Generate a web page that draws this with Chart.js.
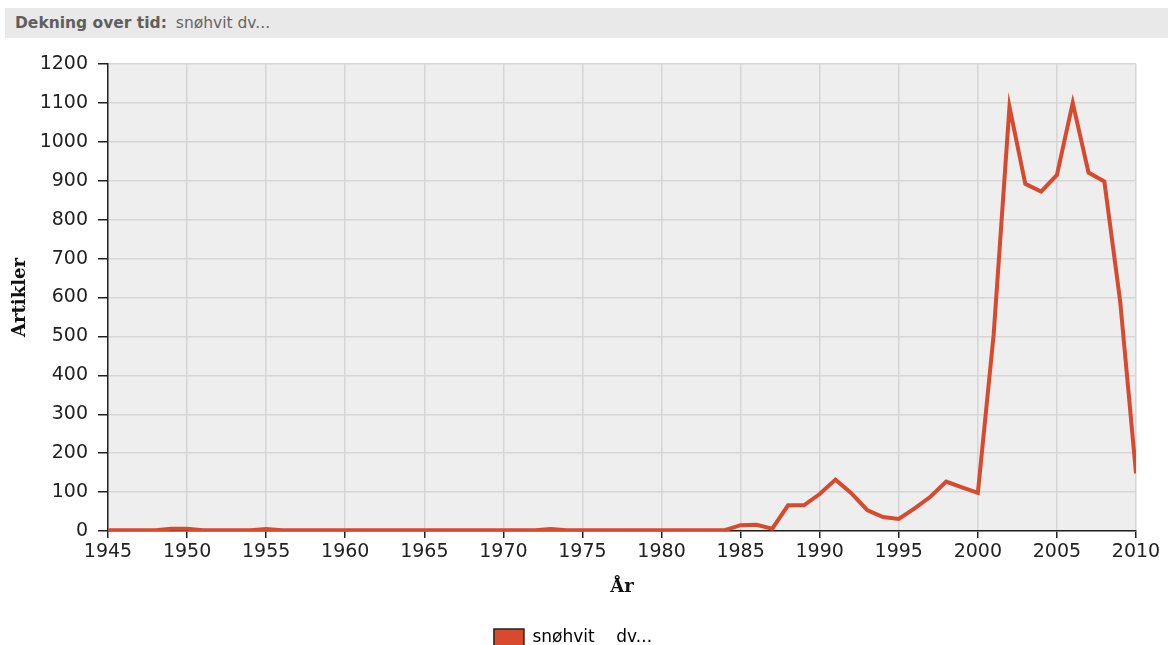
<!DOCTYPE html>
<html>
<head>
<meta charset="utf-8">
<script src="https://cdn.jsdelivr.net/npm/chart.js@4/dist/chart.umd.min.js"></script>
<style>
    html, body { margin: 0; padding: 0; background: #fff; overflow: hidden; }
    body { width: 1168px; height: 645px; position: relative; }
    .header {
        position: absolute; left: 5px; top: 8px; width: 1163px; height: 30px;
        background: #e9e9e9; font-family: "DejaVu Sans", sans-serif;
        font-size: 15.5px; line-height: 31px; color: #666;
    }
    .header b { margin-left: 10px; margin-right: 4px; color: #5f5f5f; }
    .chart-box { position: absolute; left: 0; top: 40px; width: 1168px; height: 620px; }
</style>
</head>
<body>
<div class="header"><b>Dekning over tid:</b> snøhvit dv...</div>
<div class="chart-box"><canvas id="coverageChart"></canvas></div>
<script>
// Years and article counts
var years = [1945, 1946, 1947, 1948, 1949, 1950, 1951, 1952, 1953, 1954,
             1955, 1956, 1957, 1958, 1959, 1960, 1961, 1962, 1963, 1964,
             1965, 1966, 1967, 1968, 1969, 1970, 1971, 1972, 1973, 1974,
             1975, 1976, 1977, 1978, 1979, 1980, 1981, 1982, 1983, 1984,
             1985, 1986, 1987, 1988, 1989, 1990, 1991, 1992, 1993, 1994,
             1995, 1996, 1997, 1998, 1999, 2000, 2001, 2002, 2003, 2004,
             2005, 2006, 2007, 2008, 2009, 2010];
var articles = [2, 2, 2, 2, 6, 6, 2, 2, 2, 2,
                5, 2, 2, 2, 2, 2, 2, 2, 2, 2,
                2, 2, 2, 2, 2, 2, 2, 2, 5, 2,
                2, 2, 2, 2, 2, 2, 2, 2, 2, 2,
                15, 16, 6, 66, 66, 95, 132, 97, 54, 36,
                31, 58, 88, 127, 112, 98, 505, 1090, 892, 872,
                915, 1100, 921, 898, 590, 148];
var seriesName = 'snøhvit    dv...';
var yTitle = 'Artikler';
var xTitle = 'År';

var lineColor = '#d84a2e';
var tickFont = { family: 'DejaVu Sans', size: 19 };
var titleFont = { family: 'DejaVu Serif', size: 18, weight: 'bold' };

// grey plot background
var plotBg = {
    id: 'plotBg',
    beforeDraw: function(chart) {
        var a = chart.chartArea, ctx = chart.ctx;
        ctx.save();
        ctx.fillStyle = '#eeeeee';
        ctx.fillRect(a.left, a.top, a.right - a.left, a.bottom - a.top);
        ctx.restore();
    }
};

var ctx = document.getElementById('coverageChart').getContext('2d');
var coverageChart = new Chart(ctx, {
    type: 'line',
    data: {
        datasets: [{
            label: seriesName,
            data: years.map(function(y, i) { return { x: y, y: articles[i] }; }),
            borderColor: lineColor,
            backgroundColor: lineColor,
            borderWidth: 4,
            pointRadius: 0,
            tension: 0,
            fill: false
        }]
    },
    options: {
        responsive: true,
        maintainAspectRatio: false,
        animation: false,
        layout: { padding: { top: 24, right: 32, left: 10, bottom: 4 } },
        scales: {
            x: {
                type: 'linear',
                min: 1945,
                max: 2010,
                afterFit: function(scale) { scale.height = 78; },
                ticks: {
                    stepSize: 5,
                    maxRotation: 0,
                    color: '#222',
                    font: tickFont,
                    padding: 3,
                    callback: function(v) { return String(v); }
                },
                grid: { color: '#d6d6d6', lineWidth: 1.5, tickColor: '#222', tickLength: 7 },
                border: { color: '#222', width: 1.5 },
                title: { display: true, text: xTitle, color: '#111', font: titleFont, padding: { top: 4, bottom: 11 } }
            },
            y: {
                min: 0,
                max: 1200,
                afterFit: function(scale) { scale.width = 98; },
                ticks: {
                    stepSize: 100,
                    color: '#222',
                    font: tickFont,
                    padding: 10,
                    callback: function(v) { return String(v); }
                },
                grid: { color: '#d6d6d6', lineWidth: 1.5, tickColor: '#222', tickLength: 10 },
                border: { color: '#222', width: 1.5 },
                title: { display: true, text: yTitle, color: '#111', font: titleFont, padding: 0 }
            }
        },
        plugins: {
            legend: {
                position: 'bottom',
                labels: {
                    font: { family: 'DejaVu Sans', size: 17 },
                    color: '#222',
                    boxWidth: 30,
                    boxHeight: 17,
                    padding: 20,
                    generateLabels: function(chart) {
                        return chart.data.datasets.map(function(ds, i) {
                            return {
                                text: ds.label,
                                fillStyle: ds.borderColor,
                                strokeStyle: '#222',
                                lineWidth: 1.5,
                                datasetIndex: i
                            };
                        });
                    }
                }
            },
            tooltip: { enabled: false }
        }
    },
    plugins: [plotBg]
});
</script>
</body>
</html>
